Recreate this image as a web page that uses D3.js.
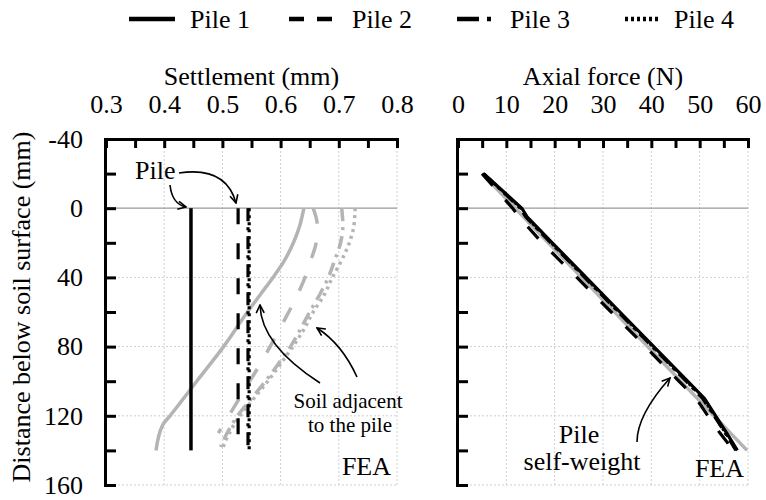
<!DOCTYPE html>
<html>
<head>
<meta charset="utf-8">
<script src="https://cdn.jsdelivr.net/npm/d3@7"></script>
<style>
  body { margin: 0; background: #fff; }
  svg { display: block; }
</style>
</head>
<body>
<svg id="chart" width="766" height="500" font-family="'Liberation Serif', 'DejaVu Serif', serif"></svg>
<script>
// ---- data ----
const seriesNames = ["Pile 1", "Pile 2", "Pile 3", "Pile 4"];
const depthTicks = [-40, 0, 40, 80, 120, 160];
const settlementTicks = [0.3, 0.4, 0.5, 0.6, 0.7, 0.8];
const forceTicks = [0, 10, 20, 30, 40, 50, 60];

// pile settlement is uniform along the shaft (head to tip)
const pileDepths = [0, 140];
const pileSettlement = [0.446, 0.527, 0.544, 0.546];

// settlement of the soil adjacent to each pile
const soilDepths1 = [0, 10, 20, 30, 40, 50, 60, 80, 100, 120, 125, 140];
const soilSettlement1 = [0.640, 0.633, 0.622, 0.607, 0.587, 0.565, 0.543, 0.502, 0.456, 0.410, 0.398, 0.386];
const soilDepths2 = [0, 10, 20, 30, 40, 50, 60, 70, 80, 90, 100, 110, 120, 130];
const soilSettlement2 = [0.656, 0.663, 0.661, 0.652, 0.642, 0.629, 0.614, 0.598, 0.582, 0.565, 0.547, 0.529, 0.511, 0.493];
const soilDepths3 = [0, 10, 20, 30, 40, 50, 60, 70, 80, 90, 100, 110, 120, 130, 138];
const soilSettlement3 = [0.705, 0.707, 0.703, 0.693, 0.682, 0.667, 0.650, 0.634, 0.617, 0.596, 0.574, 0.550, 0.526, 0.508, 0.497];
const soilDepths4 = [0, 10, 20, 30, 40, 50, 60, 70, 80, 90, 100, 110, 120, 130, 139];
const soilSettlement4 = [0.728, 0.726, 0.718, 0.705, 0.689, 0.675, 0.656, 0.640, 0.621, 0.600, 0.578, 0.554, 0.530, 0.512, 0.500];

// axial force along each pile
const forceDepths = [-20, 0, 5, 20, 40, 60, 80, 100, 110, 120, 130, 140];
const axialForce1 = [5.3, 13.2, 14.3, 19.5, 26.5, 33.5, 40.5, 47.5, 51.0, 53.3, 55.6, 57.8];
const axialForce2 = [5.0, 11.3, 12.6, 17.4, 24.6, 31.7, 38.8, 45.7, 49.3, 51.7, 54.2, 57.0];
const axialForce3 = [5.3, 12.9, 14.0, 19.2, 26.2, 33.2, 40.2, 47.2, 50.6, 53.0, 55.3, 57.5];
const axialForce4 = [5.3, 13.0, 14.1, 19.3, 26.3, 33.3, 40.3, 47.3, 50.8, 53.1, 55.4, 57.6];

// pile self-weight line
const selfWeightDepths = [-20, 140];
const selfWeightForce = [5.0, 59.8];

// ---- drawing ----
const FONT = "'Liberation Serif', 'DejaVu Serif', serif";
const svg = d3.select("#chart");
const black = "#000", gray = "#b4b4b4";
const dashes = [null, "16,19", "13,6,3,6", "3,4"];
const legendDashes = [null, "15,13", "22,8,4,8", "3,3"];

const y = d3.scaleLinear().domain([-40, 160]).range([139, 485]);
const xSettle = d3.scaleLinear().domain([0.3, 0.8]).range([106, 397]);
const xForce = d3.scaleLinear().domain([0, 60]).range([458, 748]);

const defs = svg.append("defs");
defs.append("marker")
  .attr("id", "arrow")
  .attr("viewBox", "0 0 10 10")
  .attr("refX", 9).attr("refY", 5)
  .attr("markerWidth", 10).attr("markerHeight", 10)
  .attr("markerUnits", "userSpaceOnUse")
  .attr("orient", "auto")
  .append("path")
  .attr("d", "M1,1 L9,5 L1,9")
  .attr("fill", "none").attr("stroke", black).attr("stroke-width", 1.6);

function drawFrame(x, ticks, minorStep, title, yLabels) {
  const g = svg.append("g");
  const [x0, x1] = x.domain();
  // grid
  g.selectAll(".vgrid").data(ticks.slice(1)).join("line")
    .attr("x1", d => x(d)).attr("x2", d => x(d))
    .attr("y1", y(-40)).attr("y2", y(160))
    .attr("stroke", "#cfcfcf").attr("stroke-width", 1).attr("stroke-dasharray", "2,2");
  g.selectAll(".hgrid").data(depthTicks.filter(d => d > 0)).join("line")
    .attr("x1", x(x0)).attr("x2", x(x1))
    .attr("y1", d => y(d)).attr("y2", d => y(d))
    .attr("stroke", "#cfcfcf").attr("stroke-width", 1).attr("stroke-dasharray", "2,2");
  g.append("line")
    .attr("x1", x(x0)).attr("x2", x(x1))
    .attr("y1", y(0)).attr("y2", y(0))
    .attr("stroke", "#9a9a9a").attr("stroke-width", 1.3);

  // top axis
  const n = Math.round((x1 - x0) / minorStep);
  const minor = d3.range(n + 1).map(i => +(x0 + i * minorStep).toFixed(3));
  const isMajor = d => ticks.some(t => Math.abs(t - d) < 1e-6);
  const fmt = minorStep < 1 ? d3.format(".1f") : d3.format("d");
  const top = svg.append("g").attr("transform", `translate(0,${y(-40)})`)
    .call(d3.axisTop(x).tickValues(minor).tickSize(-9).tickSizeOuter(0).tickPadding(26)
      .tickFormat(d => isMajor(d) ? fmt(d) : ""));
  top.attr("font-family", FONT).attr("font-size", 26);
  top.select(".domain").attr("stroke-width", 3).attr("stroke-linecap", "square");
  top.selectAll(".tick line").attr("stroke-width", 3);

  // left axis
  const left = svg.append("g").attr("transform", `translate(${x(x0) - 1},0)`)
    .call(d3.axisLeft(y).tickValues(d3.range(-40, 161, 20)).tickSize(-11).tickSizeOuter(0).tickPadding(22)
      .tickFormat(d => yLabels && depthTicks.includes(d) ? d : ""));
  left.attr("font-family", FONT).attr("font-size", 26);
  left.select(".domain").attr("stroke-width", 3).attr("stroke-linecap", "square");
  left.selectAll(".tick line").attr("stroke-width", 3);

  svg.append("text")
    .attr("x", (x(x0) + x(x1)) / 2).attr("y", 85)
    .attr("text-anchor", "middle").attr("font-size", 26).attr("font-family", FONT)
    .text(title);
}

drawFrame(xSettle, settlementTicks, 0.05, "Settlement (mm)", true);
drawFrame(xForce, forceTicks, 5, "Axial force (N)", false);

// y axis title
svg.append("text")
  .attr("transform", "translate(30,307) rotate(-90)")
  .attr("text-anchor", "middle").attr("font-size", 26).attr("font-family", FONT)
  .text("Distance below soil surface (mm)");

// ---- settlement panel ----
const soilSeries = [
  d3.zip(soilDepths1, soilSettlement1),
  d3.zip(soilDepths2, soilSettlement2),
  d3.zip(soilDepths3, soilSettlement3),
  d3.zip(soilDepths4, soilSettlement4)
];
const settleLine = d3.line().x(d => xSettle(d[1])).y(d => y(d[0])).curve(d3.curveMonotoneY);
svg.append("g").selectAll("path").data(soilSeries).join("path")
  .attr("d", settleLine)
  .attr("fill", "none").attr("stroke", gray).attr("stroke-width", 3.5)
  .attr("stroke-dasharray", (d, i) => dashes[i]);

const pileSeries = pileSettlement.map(s => pileDepths.map(dp => [dp, s]));
svg.append("g").selectAll("path").data(pileSeries).join("path")
  .attr("d", d3.line().x(d => xSettle(d[1])).y(d => y(d[0])))
  .attr("fill", "none").attr("stroke", black).attr("stroke-width", (d, i) => i === 0 ? 3.5 : 3.2)
  .attr("stroke-dasharray", (d, i) => dashes[i]);

// ---- axial force panel ----
const forceLine = d3.line().x(d => xForce(d[1])).y(d => y(d[0]));
svg.append("path")
  .attr("d", forceLine(d3.zip(selfWeightDepths, selfWeightForce)))
  .attr("fill", "none").attr("stroke", gray).attr("stroke-width", 3.5);
const forceSeries = [axialForce1, axialForce2, axialForce3, axialForce4].map(f => d3.zip(forceDepths, f));
svg.append("g").selectAll("path").data(forceSeries.slice().reverse()).join("path")
  .attr("d", forceLine)
  .attr("fill", "none").attr("stroke", black).attr("stroke-width", 3.2)
  .attr("stroke-dasharray", (d, i) => dashes[3 - i]);

// ---- annotations ----
const arrows = [
  "M170,185 Q172,204 186,207",
  "M179,173 Q226,166 236,203",
  "M320,383 Q261,345 260,305",
  "M357,377 Q342,344 317,328",
  "M637,442 Q637,415 670,378"
];
svg.append("g").selectAll("path").data(arrows).join("path")
  .attr("d", d => d)
  .attr("fill", "none").attr("stroke", black).attr("stroke-width", 1.6)
  .attr("marker-end", "url(#arrow)");

const labels = [
  { x: 135, y: 179, t: "Pile", a: "start", s: 26 },
  { x: 348, y: 408, t: "Soil adjacent", a: "middle", s: 21 },
  { x: 350, y: 432, t: "to the pile", a: "middle", s: 21 },
  { x: 391, y: 475, t: "FEA", a: "end", s: 26 },
  { x: 579, y: 443, t: "Pile", a: "middle", s: 26 },
  { x: 582, y: 470, t: "self-weight", a: "middle", s: 26 },
  { x: 744, y: 477, t: "FEA", a: "end", s: 26 }
];
svg.append("g").attr("font-family", FONT).selectAll("text").data(labels).join("text")
  .attr("x", d => d.x).attr("y", d => d.y)
  .attr("text-anchor", d => d.a).attr("font-size", d => d.s)
  .text(d => d.t);

// ---- legend ----
const legendX = [129, 289, 457, 625];
const legendLen = [46, 48, 34, 34];
const legend = svg.append("g").attr("font-family", FONT).selectAll("g").data(seriesNames).join("g")
  .attr("transform", (d, i) => `translate(${legendX[i]},19)`);
legend.append("line")
  .attr("x1", 0).attr("x2", (d, i) => legendLen[i]).attr("y1", 0).attr("y2", 0)
  .attr("stroke", black).attr("stroke-width", 4.5)
  .attr("stroke-dasharray", (d, i) => legendDashes[i]);
legend.append("text")
  .attr("x", (d, i) => i === 2 ? legendLen[i] + 19 : legendLen[i] + 15).attr("y", 9)
  .attr("font-size", 26)
  .text(d => d);
</script>
</body>
</html>
